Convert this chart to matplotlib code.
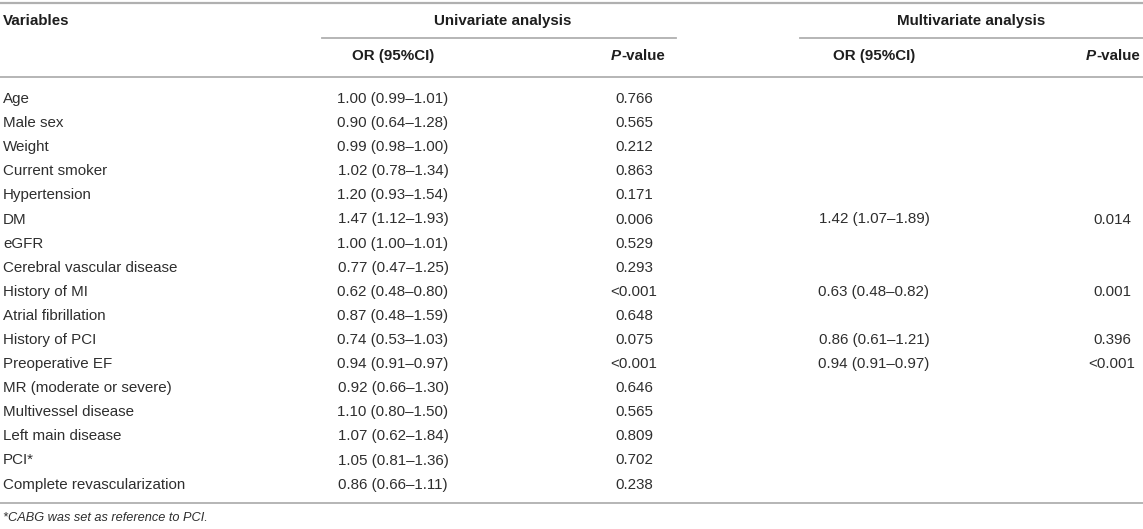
import matplotlib
matplotlib.use('Agg')
import matplotlib.pyplot as plt

plt.rcParams['font.family'] = ['Liberation Sans', 'DejaVu Sans']

variables = ['Age', 'Male sex', 'Weight', 'Current smoker', 'Hypertension', 'DM', 'eGFR',
             'Cerebral vascular disease', 'History of MI', 'Atrial fibrillation',
             'History of PCI', 'Preoperative EF', 'MR (moderate or severe)',
             'Multivessel disease', 'Left main disease', 'PCI*', 'Complete revascularization']
uni_or = ['1.00 (0.99\u20131.01)', '0.90 (0.64\u20131.28)', '0.99 (0.98\u20131.00)',
          '1.02 (0.78\u20131.34)', '1.20 (0.93\u20131.54)', '1.47 (1.12\u20131.93)',
          '1.00 (1.00\u20131.01)', '0.77 (0.47\u20131.25)', '0.62 (0.48\u20130.80)',
          '0.87 (0.48\u20131.59)', '0.74 (0.53\u20131.03)', '0.94 (0.91\u20130.97)',
          '0.92 (0.66\u20131.30)', '1.10 (0.80\u20131.50)', '1.07 (0.62\u20131.84)',
          '1.05 (0.81\u20131.36)', '0.86 (0.66\u20131.11)']
uni_p = ['0.766', '0.565', '0.212', '0.863', '0.171', '0.006', '0.529', '0.293', '<0.001',
         '0.648', '0.075', '<0.001', '0.646', '0.565', '0.809', '0.702', '0.238']
multi_or = ['', '', '', '', '', '1.42 (1.07\u20131.89)', '', '', '0.63 (0.48\u20130.82)', '',
            '0.86 (0.61\u20131.21)', '0.94 (0.91\u20130.97)', '', '', '', '', '']
multi_p = ['', '', '', '', '', '0.014', '', '', '0.001', '', '0.396', '<0.001', '', '', '', '', '']
footnote = '*CABG was set as reference to PCI.'

W, H = 1143, 529
fig = plt.figure(figsize=(W / 100, H / 100), dpi=100)
ax = fig.add_axes([0, 0, 1, 1])
ax.set_xlim(0, W)
ax.set_ylim(H, 0)
ax.axis('off')

fs = 10.9
head_c = '#1e1e1e'
txt = '#2e2e2e'
line_c = '#b0b0b0'

# column positions (pixels)
x_var = 3
x_uor, x_up = 393, 634
x_mor, x_mp = 874, 1112

# header rules
y_h1, y_h2 = 21, 56
ax.plot([0, W], [3, 3], color=line_c, lw=1.6)
ax.plot([322, 676], [37.5, 37.5], color=line_c, lw=1.3)
ax.plot([800, W], [37.5, 37.5], color=line_c, lw=1.3)
ax.plot([0, W], [77, 77], color=line_c, lw=1.3)

ax.text(x_var, y_h1, 'Variables', fontsize=fs, fontweight='bold', color=head_c, va='center')
ax.text(503, y_h1, 'Univariate analysis', fontsize=fs, fontweight='bold',
        color=head_c, va='center', ha='center')
ax.text(971, y_h1, 'Multivariate analysis', fontsize=fs, fontweight='bold',
        color=head_c, va='center', ha='center')
ax.text(x_uor, y_h2, 'OR (95%CI)', fontsize=fs, fontweight='bold', color=head_c,
        va='center', ha='center')
ax.text(x_mor, y_h2, 'OR (95%CI)', fontsize=fs, fontweight='bold', color=head_c,
        va='center', ha='center')


def pvalue_header(xc, y):
    renderer = fig.canvas.get_renderer()
    p = ax.text(0, y, 'P', fontsize=fs, fontweight='bold', fontstyle='italic',
                color=head_c, va='center')
    rest = ax.text(0, y, '-value', fontsize=fs, fontweight='bold', color=head_c, va='center')
    wp = p.get_window_extent(renderer).width
    wr = rest.get_window_extent(renderer).width
    x0 = xc - (wp + wr) / 2
    p.set_x(x0)
    rest.set_x(x0 + wp)


pvalue_header(x_up + 4, y_h2)
pvalue_header(x_mp + 1, y_h2)

# body rows
y0, step = 99, 24.1
for i, name in enumerate(variables):
    y = y0 + i * step
    ax.text(x_var, y, name, fontsize=fs, color=txt, va='center')
    ax.text(x_uor, y, uni_or[i], fontsize=fs, color=txt, va='center', ha='center')
    ax.text(x_up, y, uni_p[i], fontsize=fs, color=txt, va='center', ha='center')
    if multi_or[i]:
        ax.text(x_mor, y, multi_or[i], fontsize=fs, color=txt, va='center', ha='center')
        ax.text(x_mp, y, multi_p[i], fontsize=fs, color=txt, va='center', ha='center')

y_end = y0 + (len(variables) - 1) * step
ax.plot([0, W], [y_end + 18, y_end + 18], color=line_c, lw=1.3)
ax.text(x_var, y_end + 33, footnote, fontsize=9.2, fontstyle='italic',
        color=txt, va='center')

fig.savefig('out.png', dpi=100)
